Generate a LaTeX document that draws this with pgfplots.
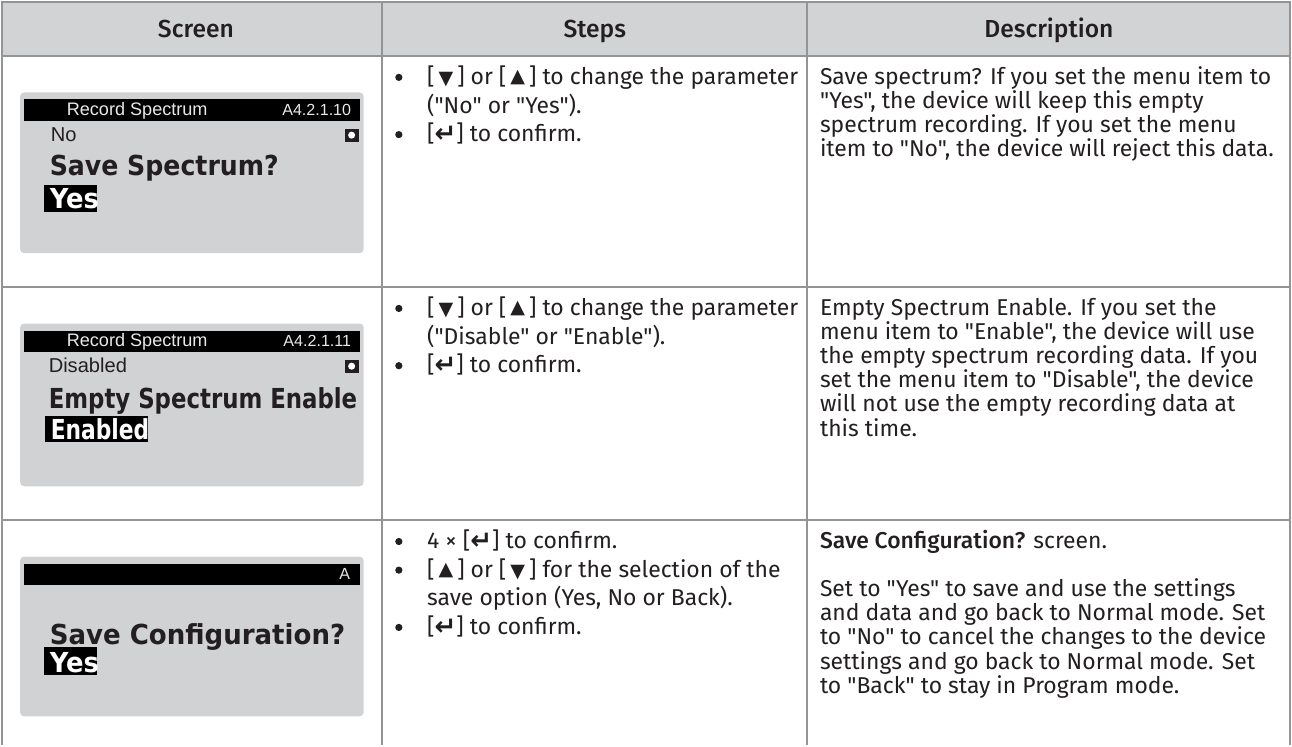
\documentclass[border=0pt]{standalone}
\usepackage{pgfplots}
\pgfplotsset{compat=1.18}
\usepackage{fontspec}
\usepackage{graphicx}
\setmainfont{Fira Sans}[Ligatures=TeXOff]
\newfontfamily\hdrfont{Fira Sans Medium}[Ligatures=TeXOff]
\newfontfamily\arialfont{Liberation Sans}
\newfontfamily\lcdfont{DejaVu Sans Bold}
\newfontfamily\symfont{DejaVu Sans}
\newfontfamily\symbold{DejaVu Sans Bold}
\definecolor{tline}{RGB}{148,148,148}
\definecolor{hdrfill}{RGB}{209,211,212}
\definecolor{lcdfill}{RGB}{209,210,212}
\definecolor{ink}{RGB}{35,31,32}
\definecolor{bartext}{RGB}{232,232,232}
\newcommand{\bodyfont}{\fontsize{22.8}{24}\selectfont}
\newcommand{\dn}{[\hspace{4pt}{\symfont\fontsize{19}{19}\selectfont\raisebox{0pt}{▼}}\hspace{4pt}]}
\newcommand{\up}{[\hspace{4pt}{\symfont\fontsize{19}{19}\selectfont\raisebox{2pt}{▲}}\hspace{4pt}]}
\newcommand{\ret}{[{\symbold\fontsize{26}{26}\selectfont\raisebox{-1pt}{↵}}]}
\newcommand{\lcd}[2]{\resizebox{#1pt}{\height}{\lcdfont\fontsize{27.4}{28}\selectfont #2}}
\begin{document}
\begin{tikzpicture}
\begin{axis}[
  width=1292pt, height=747pt, scale only axis,
  xmin=0, xmax=1292, ymin=0, ymax=747, y dir=reverse,
  axis lines=none, ticks=none, clip=false,
  every node/.style={inner sep=0pt, outer sep=0pt},
]
% header fill
\fill[hdrfill] (axis cs:7,7) rectangle (axis cs:1289,61);
% table lines
\addplot[tline, line width=2pt, forget plot] coordinates {(6,7) (1290,7)};
\addplot[tline, line width=2pt, forget plot] coordinates {(6,61) (1290,61)};
\addplot[tline, line width=2pt, forget plot] coordinates {(6,291) (1290,291)};
\addplot[tline, line width=2pt, forget plot] coordinates {(6,523) (1290,523)};
\addplot[tline, line width=2pt, forget plot] coordinates {(7,6) (7,747)};
\addplot[tline, line width=2pt, forget plot] coordinates {(385,6) (385,747)};
\addplot[tline, line width=2pt, forget plot] coordinates {(808,6) (808,747)};
\addplot[tline, line width=2pt, forget plot] coordinates {(1289,6) (1289,747)};
% header text
\node[anchor=base, text=ink, font=\hdrfont\fontsize{24.5}{26}\selectfont] at (axis cs:200,42) {Screen};
\node[anchor=base, text=ink, font=\hdrfont\fontsize{24.5}{26}\selectfont] at (axis cs:597,42) {Steps};
\node[anchor=base, text=ink, font=\hdrfont\fontsize{24.5}{26}\selectfont] at (axis cs:1049,42) {Description};

% ---------- screens ----------
% row 1
\fill[lcdfill, rounded corners=4pt] (axis cs:25,97) rectangle (axis cs:367,257);
\fill[black] (axis cs:29,104) rectangle (axis cs:363,125);
\node[anchor=base west, text=bartext, font=\arialfont\fontsize{18}{18}\selectfont] at (axis cs:68,120) {Record Spectrum};
\node[anchor=base east, text=bartext, font=\arialfont\fontsize{16}{16}\selectfont] at (axis cs:358,120) {A4.2.1.10};
\node[anchor=base west, text=ink, font=\arialfont\fontsize{20}{20}\selectfont] at (axis cs:52,146) {No};
\fill[ink] (axis cs:348,133) rectangle (axis cs:362,146);
\fill[white] (axis cs:355,139.5) circle (3.5pt);
\node[anchor=base west, text=ink] at (axis cs:51,180) {\lcd{228}{Save Spectrum?}};
\fill[black] (axis cs:49,189) rectangle (axis cs:102,216);
\node[anchor=base west, text=white] at (axis cs:51,213) {\lcd{49}{Yes}};
% row 2
\fill[lcdfill, rounded corners=4pt] (axis cs:25,327) rectangle (axis cs:367,489);
\fill[black] (axis cs:29,334) rectangle (axis cs:363,355);
\node[anchor=base west, text=bartext, font=\arialfont\fontsize{18}{18}\selectfont] at (axis cs:68,350) {Record Spectrum};
\node[anchor=base east, text=bartext, font=\arialfont\fontsize{16}{16}\selectfont] at (axis cs:358,350) {A4.2.1.11};
\node[anchor=base west, text=ink, font=\arialfont\fontsize{20}{20}\selectfont] at (axis cs:50,376) {Disabled};
\fill[ink] (axis cs:348,363) rectangle (axis cs:362,376);
\fill[white] (axis cs:355,369.5) circle (3.5pt);
\node[anchor=base west, text=ink] at (axis cs:50,412) {\lcd{307}{Empty Spectrum Enable}};
\fill[black] (axis cs:50,419) rectangle (axis cs:152,445);
\node[anchor=base west, text=white] at (axis cs:52,442) {\lcd{98}{Enabled}};
% row 3
\fill[lcdfill, rounded corners=4pt] (axis cs:25,559) rectangle (axis cs:367,718);
\fill[black] (axis cs:29,566) rectangle (axis cs:363,587);
\node[anchor=base east, text=bartext, font=\arialfont\fontsize{16}{16}\selectfont] at (axis cs:357,582) {A};
\node[anchor=base west, text=ink] at (axis cs:51,647) {\lcd{294}{Save Configuration?}};
\fill[black] (axis cs:49,649) rectangle (axis cs:102,677);
\node[anchor=base west, text=white] at (axis cs:51,674) {\lcd{49}{Yes}};

% ---------- steps: bullets ----------
\fill[ink] (axis cs:402,82) circle (3.6pt);
\fill[ink] (axis cs:402,139) circle (3.6pt);
\fill[ink] (axis cs:402,312) circle (3.6pt);
\fill[ink] (axis cs:402,369) circle (3.6pt);
\fill[ink] (axis cs:402,544) circle (3.6pt);
\fill[ink] (axis cs:402,572.5) circle (3.6pt);
\fill[ink] (axis cs:402,629.5) circle (3.6pt);

\begin{scope}[every node/.style={inner sep=0pt, anchor=base west, text=ink, font=\bodyfont}]
% ---------- steps ----------
\node at (axis cs:430,89) {\dn{} or \up{} to change the parameter};
\node at (axis cs:430,117.5) {("No" or "Yes").};
\node at (axis cs:430,146) {\ret{} to confirm.};

\node at (axis cs:430,319) {\dn{} or \up{} to change the parameter};
\node at (axis cs:430,347.5) {("Disable" or "Enable").};
\node at (axis cs:430,376) {\ret{} to confirm.};

\node at (axis cs:430,551) {4 × \ret{} to confirm.};
\node at (axis cs:430,579.5) {\up{} or \dn{} for the selection of the};
\node at (axis cs:430,608) {save option (Yes, No or Back).};
\node at (axis cs:430,636.5) {\ret{} to confirm.};

% ---------- description ----------
\node at (axis cs:821,89) {Save spectrum? If you set the menu item to};
\node at (axis cs:821,113) {"Yes", the device will keep this empty};
\node at (axis cs:821,137) {spectrum recording. If you set the menu};
\node at (axis cs:821,161) {item to "No", the device will reject this data.};

\node at (axis cs:821,319) {Empty Spectrum Enable. If you set the};
\node at (axis cs:821,343) {menu item to "Enable", the device will use};
\node at (axis cs:821,367) {the empty spectrum recording data. If you};
\node at (axis cs:821,391) {set the menu item to "Disable", the device};
\node at (axis cs:821,415) {will not use the empty recording data at};
\node at (axis cs:821,439) {this time.};

\node at (axis cs:821,551) {{\hdrfont Save Configuration?} screen.};
\node at (axis cs:821,599) {Set to "Yes" to save and use the settings};
\node at (axis cs:821,623) {and data and go back to Normal mode. Set};
\node at (axis cs:821,647) {to "No" to cancel the changes to the device};
\node at (axis cs:821,671) {settings and go back to Normal mode. Set};
\node at (axis cs:821,695) {to "Back" to stay in Program mode.};
\end{scope}
\end{axis}
\end{tikzpicture}
\end{document}
